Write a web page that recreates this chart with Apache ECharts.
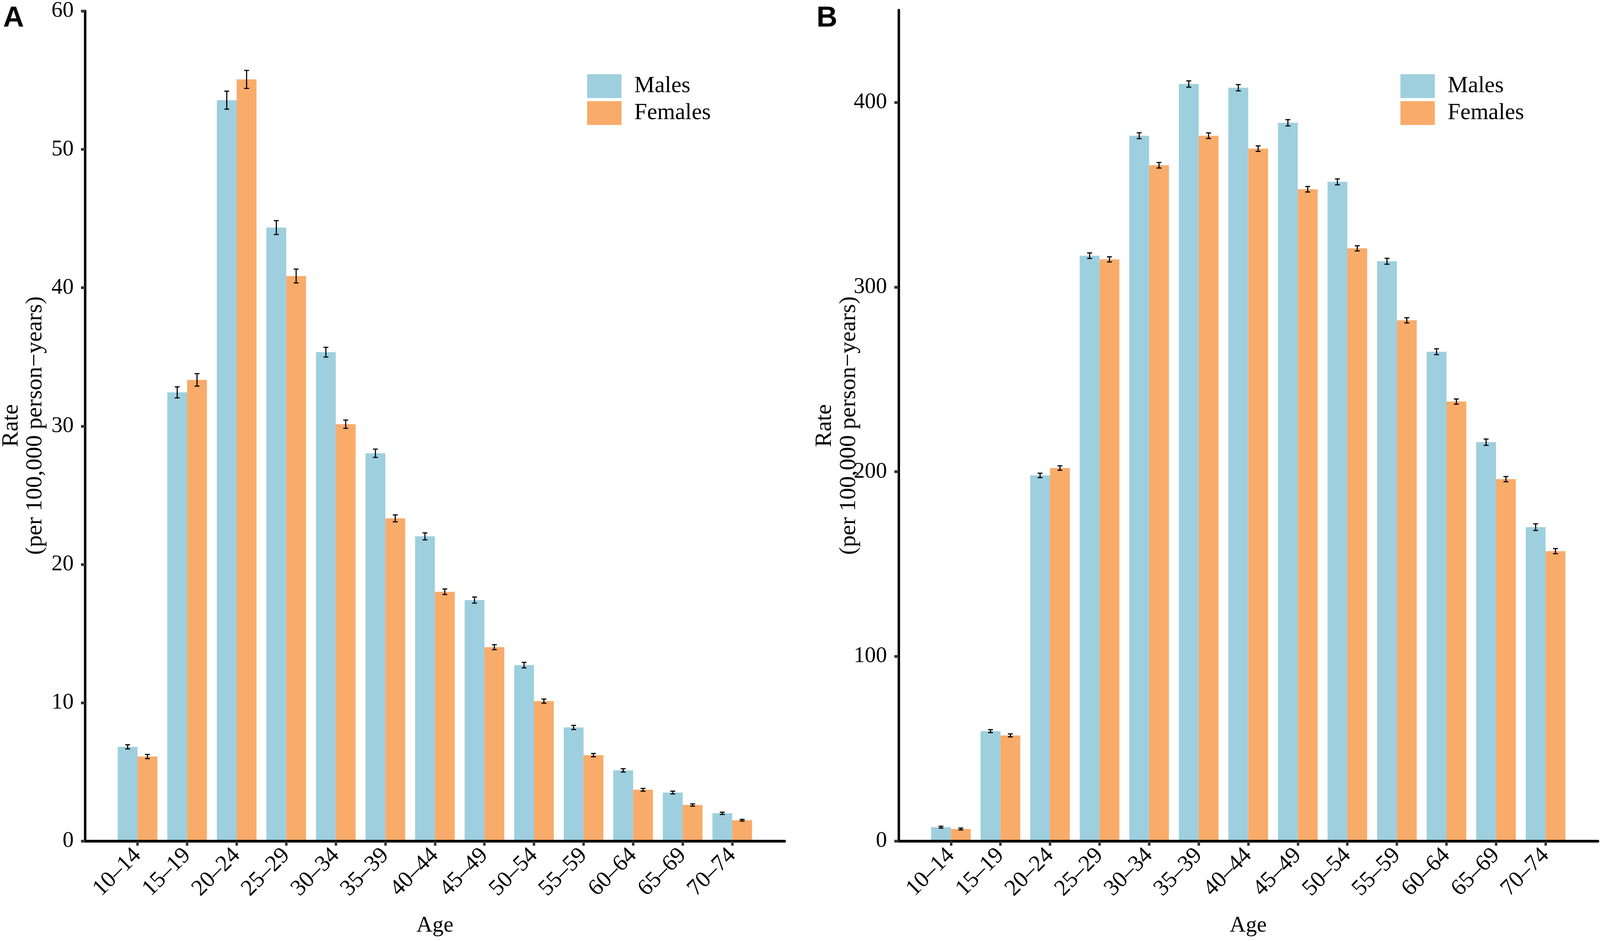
<!DOCTYPE html>
<html><head><meta charset="utf-8">
<script src="https://cdn.jsdelivr.net/npm/echarts@6/dist/echarts.min.js"></script>
<style>html,body{margin:0;padding:0;background:#fff;overflow:hidden}#c{width:100vw;height:100vh}</style>
</head><body><div id="c"></div>
<script>
// ---------- data ----------
const ageGroups = ['10–14','15–19','20–24','25–29','30–34','35–39','40–44','45–49','50–54','55–59','60–64','65–69','70–74'];
const seriesNames = ['Males','Females'];

// Panel A
const malesA      = [6.8, 32.4, 53.5, 44.3, 35.3, 28.0, 22.0, 17.4, 12.7, 8.2, 5.1, 3.5, 2.0];
const malesAErr   = [0.15, 0.4, 0.65, 0.5, 0.35, 0.3, 0.25, 0.22, 0.2, 0.15, 0.12, 0.1, 0.08];
const femalesA    = [6.1, 33.3, 55.0, 40.8, 30.1, 23.3, 18.0, 14.0, 10.1, 6.2, 3.7, 2.6, 1.5];
const femalesAErr = [0.15, 0.45, 0.65, 0.5, 0.3, 0.25, 0.2, 0.18, 0.15, 0.12, 0.1, 0.08, 0.06];
const yTicksA     = [0, 10, 20, 30, 40, 50, 60];

// Panel B
const malesB      = [7.5, 59.5, 198, 317, 382, 410, 408, 389, 357, 314, 265, 216, 170];
const malesBErr   = [0.5, 0.8, 1.2, 1.5, 1.6, 1.7, 1.7, 1.7, 1.6, 1.6, 1.6, 1.7, 1.8];
const femalesB    = [6.5, 57.2, 202, 315, 366, 382, 375, 353, 321, 282, 238, 196, 157];
const femalesBErr = [0.5, 0.8, 1.2, 1.4, 1.5, 1.5, 1.5, 1.5, 1.4, 1.4, 1.4, 1.4, 1.4];
const yTicksB     = [0, 100, 200, 300, 400];

const panelLetters = ['A', 'B'];
const xTitle = 'Age';
const yTitle1 = 'Rate';
const yTitle2 = '(per 100,000 person−years)';

// ---------- style / layout (designed on a 4562 x 2409 canvas, stretched to the window) ----------
const el = document.getElementById('c');
const SX = el.clientWidth / 4562;
const SY = el.clientHeight / 2409;
const SF = Math.sqrt(SX * SY);
const px = v => v * SX;   // horizontal
const py = v => v * SY;   // vertical
const pf = v => v * SF;   // fonts / strokes
const SERIF = '"Liberation Serif","Times New Roman",serif';
const BLUE = '#9ECFDE';
const ORANGE = '#F9AB6A';
const AXIS_BOTTOM = 2153, AXIS_TOP = 26;
const PANEL_W = 1994;
const panelX = [243, 2562];
const BAND = 141.3;
const dataInset = (PANEL_W - 13 * BAND) / 2;

const panels = [
  {x0: panelX[0], max: 60, ticks: yTicksA, m: malesA, me: malesAErr, f: femalesA, fe: femalesAErr},
  {x0: panelX[1], max: 450, ticks: yTicksB, m: malesB, me: malesBErr, f: femalesB, fe: femalesBErr}
];

function errRender(sign) {
  return function (params, api) {
    const i = api.value(0), lo = api.value(1), hi = api.value(2);
    const band = api.size([1, 0])[0];
    const pLo = api.coord([i, lo]);
    const pHi = api.coord([i, hi]);
    const x = pLo[0] + sign * band * 0.2;
    const cap = px(7);
    const st = {stroke: '#000', lineWidth: pf(3)};
    return {type: 'group', children: [
      {type: 'line', shape: {x1: x, y1: pLo[1], x2: x, y2: pHi[1]}, style: st},
      {type: 'line', shape: {x1: x - cap, y1: pLo[1], x2: x + cap, y2: pLo[1]}, style: st},
      {type: 'line', shape: {x1: x - cap, y1: pHi[1], x2: x + cap, y2: pHi[1]}, style: st}
    ]};
  };
}

const grid = [], xAxis = [], yAxis = [], series = [], legend = [], graphic = [];
panels.forEach((p, k) => {
  const gf = grid.length;
  grid.push({left: px(p.x0), top: py(AXIS_TOP), width: px(PANEL_W), height: py(AXIS_BOTTOM - AXIS_TOP), containLabel: false});
  grid.push({left: px(p.x0 + dataInset), top: py(AXIS_TOP), width: px(13 * BAND), height: py(AXIS_BOTTOM - AXIS_TOP), containLabel: false});
  // frame axes
  xAxis.push({type: 'value', gridIndex: gf, min: 0, max: 1, z: 10,
    axisLine: {show: true, lineStyle: {color: '#000', width: py(7)}},
    axisTick: {show: false}, axisLabel: {show: false}, splitLine: {show: false}});
  yAxis.push({type: 'value', gridIndex: gf, min: 0, max: p.max, z: 10,
    axisLine: {show: true, lineStyle: {color: '#000', width: px(7)}},
    axisTick: {show: true, length: px(12), lineStyle: {color: '#333', width: py(7)}, customValues: p.ticks},
    axisLabel: {show: true, margin: px(33), fontFamily: SERIF, fontSize: pf(60), color: '#000', customValues: p.ticks},
    splitLine: {show: false}});
  // data axes
  xAxis.push({type: 'category', gridIndex: gf + 1, data: ageGroups, z: 10,
    axisLine: {show: false},
    axisTick: {show: true, alignWithLabel: true, length: py(12), lineStyle: {color: '#333', width: px(7)}},
    axisLabel: {show: true, rotate: 45, margin: py(28), fontFamily: SERIF, fontSize: pf(62), color: '#000', interval: 0},
    splitLine: {show: false}});
  yAxis.push({type: 'value', gridIndex: gf + 1, min: 0, max: p.max, show: false, splitLine: {show: false}});

  const xi = gf + 1, yi = gf + 1;
  series.push({name: seriesNames[0], type: 'bar', xAxisIndex: xi, yAxisIndex: yi, data: p.m,
    itemStyle: {color: BLUE}, barGap: '0%', barCategoryGap: '20%', z: 2});
  series.push({name: seriesNames[1], type: 'bar', xAxisIndex: xi, yAxisIndex: yi, data: p.f,
    itemStyle: {color: ORANGE}, barGap: '0%', barCategoryGap: '20%', z: 2});
  series.push({name: seriesNames[0] + ' CI', type: 'custom', xAxisIndex: xi, yAxisIndex: yi, z: 3,
    renderItem: errRender(-1), encode: {x: 0, y: [1, 2]},
    data: p.m.map((v, i) => [i, v - p.me[i], v + p.me[i]])});
  series.push({name: seriesNames[1] + ' CI', type: 'custom', xAxisIndex: xi, yAxisIndex: yi, z: 3,
    renderItem: errRender(1), encode: {x: 0, y: [1, 2]},
    data: p.f.map((v, i) => [i, v - p.fe[i], v + p.fe[i]])});

  legend.push({orient: 'vertical', left: px(p.x0 + 1431), top: py(190), padding: 0,
    itemWidth: px(98), itemHeight: py(61), itemGap: py(8), icon: 'rect', data: seriesNames,
    textStyle: {fontFamily: SERIF, fontSize: pf(62), color: '#000', lineHeight: py(61), padding: [0, 0, 0, px(31)]}});

  graphic.push({type: 'text', left: px(p.x0 - 234), top: py(11),
    style: {text: panelLetters[k], font: 'bold ' + pf(78) + 'px "Liberation Sans", Arial, sans-serif', fill: '#000'}});
  graphic.push({type: 'text', x: px(p.x0 + PANEL_W / 2), y: py(2370),
    style: {text: xTitle, font: pf(60) + 'px ' + SERIF, fill: '#000', textAlign: 'center', textVerticalAlign: 'middle'}});
  graphic.push({type: 'text', x: px(p.x0 - 210), y: py((AXIS_TOP + AXIS_BOTTOM) / 2), rotation: Math.PI / 2,
    style: {text: yTitle1, font: py(60) + 'px ' + SERIF, fill: '#000', textAlign: 'center', textVerticalAlign: 'middle'}});
  graphic.push({type: 'text', x: px(p.x0 - 142), y: py((AXIS_TOP + AXIS_BOTTOM) / 2), rotation: Math.PI / 2,
    style: {text: yTitle2, font: py(60) + 'px ' + SERIF, fill: '#000', textAlign: 'center', textVerticalAlign: 'middle'}});
});

const chart = echarts.init(el, null, {renderer: 'canvas'});
chart.setOption({
  animation: false,
  backgroundColor: '#fff',
  grid, xAxis, yAxis, series, legend, graphic
});
</script>
</body></html>
